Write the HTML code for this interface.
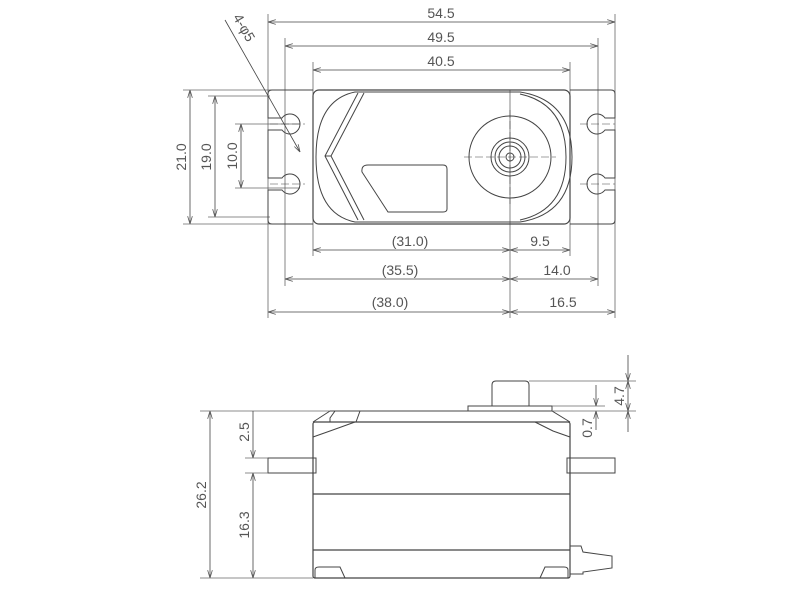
<!DOCTYPE html>
<html><head><meta charset="utf-8"><style>html,body{margin:0;padding:0;background:#fff}svg{display:block}</style></head><body>
<svg width="800" height="600" viewBox="0 0 800 600" xmlns="http://www.w3.org/2000/svg" font-family="Liberation Sans, sans-serif" font-size="14" fill="none" stroke="#444" stroke-width="1">
<defs><marker id="a" viewBox="0 0 10 6" refX="10" refY="3" markerWidth="10" markerHeight="6" orient="auto-start-reverse"><path d="M0,0 L10,3 L0,6" fill="none" stroke="#555"/></marker></defs>
<g stroke="#666" stroke-width="0.8">
<line x1="268" y1="14" x2="268" y2="318"/><line x1="615" y1="14" x2="615" y2="318"/>
<line x1="285" y1="38" x2="285" y2="286"/><line x1="598" y1="38" x2="598" y2="286"/>
<line x1="313" y1="62" x2="313" y2="256"/><line x1="570" y1="62" x2="570" y2="256"/>
<line x1="510" y1="90" x2="510" y2="318"/>
<line x1="183" y1="90" x2="313" y2="90"/><line x1="183" y1="224" x2="313" y2="224"/>
<line x1="208" y1="96" x2="270" y2="96"/><line x1="208" y1="217" x2="270" y2="217"/>
<line x1="235" y1="124" x2="300" y2="124"/><line x1="235" y1="188" x2="300" y2="188"/>
</g>
<g marker-start="url(#a)" marker-end="url(#a)" stroke-width="0.8">
<line x1="268" y1="22" x2="615" y2="22"/><line x1="285" y1="46" x2="598" y2="46"/><line x1="313" y1="70" x2="570" y2="70"/>
<line x1="190" y1="90" x2="190" y2="224"/><line x1="215" y1="96" x2="215" y2="217"/><line x1="241" y1="124" x2="241" y2="188"/>
<line x1="313" y1="250" x2="510" y2="250"/><line x1="510" y1="250" x2="570" y2="250"/>
<line x1="285" y1="279" x2="510" y2="279"/><line x1="510" y1="279" x2="598" y2="279"/>
<line x1="268" y1="312" x2="510" y2="312"/><line x1="510" y1="312" x2="615" y2="312"/>
</g>
<line x1="225" y1="20" x2="300" y2="152" stroke-width="0.8" marker-end="url(#a)"/>
<g fill="#555" stroke="none">
<text x="441" y="18" text-anchor="middle">54.5</text><text x="441" y="42" text-anchor="middle">49.5</text><text x="441" y="66" text-anchor="middle">40.5</text>
<text x="410" y="246" text-anchor="middle">(31.0)</text><text x="540" y="246" text-anchor="middle">9.5</text>
<text x="400" y="275" text-anchor="middle">(35.5)</text><text x="557" y="275" text-anchor="middle">14.0</text>
<text x="390" y="307" text-anchor="middle">(38.0)</text><text x="563" y="307" text-anchor="middle">16.5</text>
<text transform="translate(186,157) rotate(-90)" text-anchor="middle">21.0</text>
<text transform="translate(211,157) rotate(-90)" text-anchor="middle">19.0</text>
<text transform="translate(237,156) rotate(-90)" text-anchor="middle">10.0</text>
<text transform="translate(240,30) rotate(60)" text-anchor="middle">4-φ5</text>
</g>
<!-- flanges -->
<path d="M313,90 H272 Q268,90 268,94 V118 H282 A10,10 0 1 1 282,130 H268 V178 H282 A10,10 0 1 1 282,190 H268 V220 Q268,224 272,224 H313" stroke-width="1"/>
<path d="M570,90 H611 Q615,90 615,94 V118 H605 A10,10 0 1 0 605,130 H615 V178 H605 A10,10 0 1 0 605,190 H615 V220 Q615,224 611,224 H570" stroke-width="1"/>
<rect x="313" y="90" width="257" height="134" rx="6" stroke-width="1.2"/>
<path d="M355,92 H520 Q572,100 572,157 Q572,214 520,222 H355 Q316,214 316,157 Q316,100 355,92 Z"/>
<path d="M520,94 Q566,104 566,157 Q566,210 520,220"/>
<path d="M358,93 L325,156 L358,220 M364,93 L331,156 L364,220 M325,156 H331"/>
<path d="M368,165 H443 Q447,165 447,169 V209 Q447,212 443,212 H388 L362,172 Q361,165 368,165 Z"/>
<circle cx="510" cy="157" r="41"/><circle cx="510" cy="157" r="19"/><circle cx="510" cy="157" r="15"/><circle cx="510" cy="157" r="11"/><circle cx="510" cy="157" r="4"/>
<g stroke-dasharray="8,3" stroke-width="0.6"><line x1="464" y1="157" x2="556" y2="157"/><line x1="510" y1="110" x2="510" y2="204"/>
<line x1="270" y1="124" x2="305" y2="124"/><line x1="270" y1="184" x2="305" y2="184"/><line x1="580" y1="124" x2="615" y2="124"/><line x1="580" y1="184" x2="615" y2="184"/></g>
<!-- SIDE VIEW -->
<rect x="313" y="422" width="257" height="156" rx="2" stroke-width="1.2"/>
<path d="M330,411 H552 L570,422 M313,422 L330,411"/>
<path d="M335,411 L330,418 V422 M360,411 L356,422"/>
<path d="M313,437 L330,431 L355,422 M570,437 L553,431 L535,422"/>
<line x1="313" y1="494" x2="570" y2="494" stroke-width="1.2"/><line x1="313" y1="550" x2="570" y2="550" stroke-width="1.2"/>
<rect x="268" y="458" width="48" height="15"/><rect x="567" y="458" width="48" height="15"/>
<path d="M492,406 V385 Q492,381 496,381 H525 Q529,381 529,385 V406"/>
<rect x="468" y="406" width="84" height="5"/>
<path d="M570,546 H581 L583,552 L612,556 V568 L583,572 L583,574 H570"/>
<path d="M315,578 V570 Q315,567 319,567 H340 L345,578 M568,578 V570 Q568,567 564,567 H545 L540,578"/>
<g stroke="#666" stroke-width="0.8">
<line x1="200" y1="411" x2="330" y2="411"/><line x1="200" y1="578" x2="313" y2="578"/>
<line x1="245" y1="458" x2="268" y2="458"/><line x1="245" y1="473" x2="268" y2="473"/>
<line x1="529" y1="381" x2="636" y2="381"/><line x1="552" y1="411" x2="636" y2="411"/><line x1="552" y1="406" x2="605" y2="406"/>
</g>
<g marker-start="url(#a)" marker-end="url(#a)" stroke-width="0.8">
<line x1="210" y1="411" x2="210" y2="578"/><line x1="253" y1="473" x2="253" y2="578"/><line x1="628" y1="381" x2="628" y2="411"/>
</g>
<g stroke-width="0.8"><line x1="253" y1="411" x2="253" y2="458" marker-end="url(#a)"/><line x1="596" y1="385" x2="596" y2="406" marker-end="url(#a)"/><line x1="596" y1="430" x2="596" y2="411" marker-end="url(#a)"/>
<line x1="628" y1="355" x2="628" y2="381" marker-end="url(#a)"/><line x1="628" y1="432" x2="628" y2="411" marker-end="url(#a)"/></g>
<g fill="#555" stroke="none">
<text transform="translate(206,495) rotate(-90)" text-anchor="middle">26.2</text>
<text transform="translate(249,432) rotate(-90)" text-anchor="middle">2.5</text>
<text transform="translate(249,525) rotate(-90)" text-anchor="middle">16.3</text>
<text transform="translate(624,396) rotate(-90)" text-anchor="middle">4.7</text>
<text transform="translate(592,428) rotate(-90)" text-anchor="middle">0.7</text>
</g>
</svg>
</body></html>
